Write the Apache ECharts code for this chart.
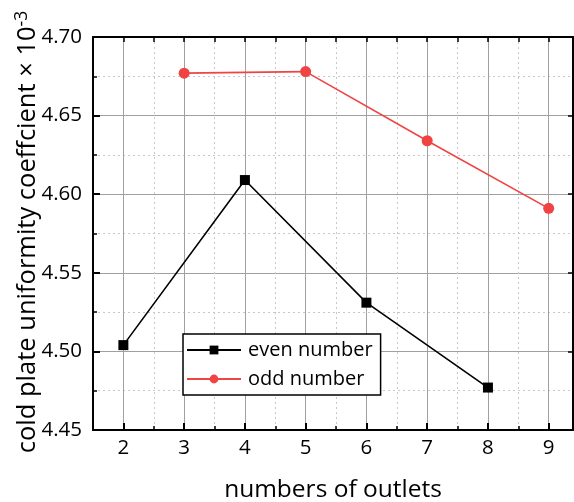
<!DOCTYPE html>
<html>
<head>
<meta charset="utf-8">
<script src="https://cdn.jsdelivr.net/npm/echarts@6/dist/echarts.min.js"></script>
<style>
  html, body { margin: 0; padding: 0; background: #fff; }
  #chart { width: 574px; height: 502px; }
</style>
</head>
<body>
<div id="chart"></div>
<script>
// Outlet counts and uniformity coefficients (× 10^-3)
const evenOutlets = [2, 4, 6, 8];
const evenValues = [4.504, 4.609, 4.531, 4.477];
const oddOutlets = [3, 5, 7, 9];
const oddValues = [4.677, 4.678, 4.634, 4.591];
const xTickValues = [2, 3, 4, 5, 6, 7, 8, 9];
const yTitle = 'cold plate uniformity coeffcient × 10{sup|-3}';

const FONT = '"Open Sans", "Noto Sans", sans-serif';
const RED = '#f04343';

const evenData = evenOutlets.map((x, i) => [x, evenValues[i]]);
const oddData = oddOutlets.map((x, i) => [x, oddValues[i]]);

const chart = echarts.init(document.getElementById('chart'), null, { renderer: 'canvas' });

const xBase = { type: 'value', min: 1.5, max: 9.4 };

chart.setOption({
  backgroundColor: '#ffffff',
  animation: false,
  grid: { left: 93, right: 1, top: 37, bottom: 72, containLabel: false, outerBoundsMode: 'none' },
  // vertical y-axis title with a superscript exponent
  graphic: [{
    type: 'text',
    x: 28,
    y: 232,
    rotation: Math.PI / 2,
    style: {
      text: yTitle,
      align: 'center',
      verticalAlign: 'middle',
      fontFamily: FONT,
      fontSize: 25.5,
      fill: '#000',
      rich: {
        sup: { fontFamily: FONT, fontSize: 17.5, fill: '#000', verticalAlign: 'top', padding: [0, 0, 12, 0] }
      }
    }
  }],
  xAxis: [
    // half-step dotted grid and small ticks
    Object.assign({}, xBase, {
      position: 'bottom',
      interval: 0.5,
      axisLine: { show: true, lineStyle: { color: '#000', width: 2 } },
      axisTick: { show: true, inside: true, length: 4, lineStyle: { color: '#000', width: 1.5 } },
      axisLabel: { show: false },
      splitLine: { show: true, lineStyle: { color: '#c8c8c8', type: [2, 3], width: 1 } },
      name: 'numbers of outlets',
      nameLocation: 'middle',
      nameGap: 48,
      nameTextStyle: { fontFamily: FONT, fontSize: 24.5, color: '#000' }
    }),
    // integer labels, ticks and solid grid
    Object.assign({}, xBase, {
      position: 'bottom',
      axisLine: { show: false },
      axisTick: { show: true, inside: true, length: 7, customValues: xTickValues, lineStyle: { color: '#000', width: 2 } },
      axisLabel: { show: true, customValues: xTickValues, margin: 8, fontFamily: FONT, fontSize: 20.5, color: '#000' },
      splitLine: { show: true, lineStyle: { color: '#a0a0a0', width: 1 } }
    }),
    // top frame with inward ticks
    Object.assign({}, xBase, {
      position: 'top',
      interval: 0.5,
      axisLine: { show: true, lineStyle: { color: '#000', width: 2 } },
      axisTick: { show: true, inside: true, length: 5, lineStyle: { color: '#000', width: 1.5 } },
      axisLabel: { show: false },
      splitLine: { show: false }
    })
  ],
  yAxis: [
    {
      type: 'value',
      position: 'left',
      min: 4.45,
      max: 4.70,
      interval: 0.05,
      axisLine: { show: true, lineStyle: { color: '#000', width: 2 } },
      axisTick: { show: true, inside: true, length: 7, lineStyle: { color: '#000', width: 2 } },
      minorTick: { show: true, splitNumber: 2, length: 4, lineStyle: { color: '#000', width: 1.5 } },
      axisLabel: {
        margin: 11,
        fontFamily: FONT, fontSize: 20.5, color: '#000',
        formatter: v => v.toFixed(2)
      },
      splitLine: { show: true, lineStyle: { color: '#a0a0a0', width: 1 } },
      minorSplitLine: { show: true, lineStyle: { color: '#c8c8c8', type: [2, 3], width: 1 } }
    },
    {
      type: 'value',
      position: 'right',
      min: 4.45,
      max: 4.70,
      interval: 0.05,
      axisLine: { show: true, lineStyle: { color: '#000', width: 2 } },
      axisTick: { show: true, inside: true, length: 5, lineStyle: { color: '#000', width: 1.5 } },
      axisLabel: { show: false },
      splitLine: { show: false }
    }
  ],
  legend: {
    orient: 'vertical',
    left: 183,
    top: 334,
    width: 195,
    padding: [6, 8, 6, 3],
    itemGap: 9,
    itemWidth: 54,
    itemHeight: 11,
    backgroundColor: '#ffffff',
    borderColor: '#000',
    borderWidth: 1.5,
    borderRadius: 0,
    textStyle: { fontFamily: FONT, fontSize: 20, color: '#000', padding: [0, 0, 0, 2] },
    data: ['even number', 'odd number']
  },
  series: [
    {
      name: 'even number',
      type: 'line',
      xAxisIndex: 0,
      yAxisIndex: 0,
      data: evenData,
      symbol: 'rect',
      symbolSize: 10,
      itemStyle: { color: '#000' },
      lineStyle: { color: '#000', width: 1.6 },
      z: 5
    },
    {
      name: 'odd number',
      type: 'line',
      xAxisIndex: 0,
      yAxisIndex: 0,
      data: oddData,
      symbol: 'circle',
      symbolSize: 11,
      itemStyle: { color: RED },
      lineStyle: { color: RED, width: 1.6 },
      z: 5
    }
  ]
});
</script>
</body>
</html>
